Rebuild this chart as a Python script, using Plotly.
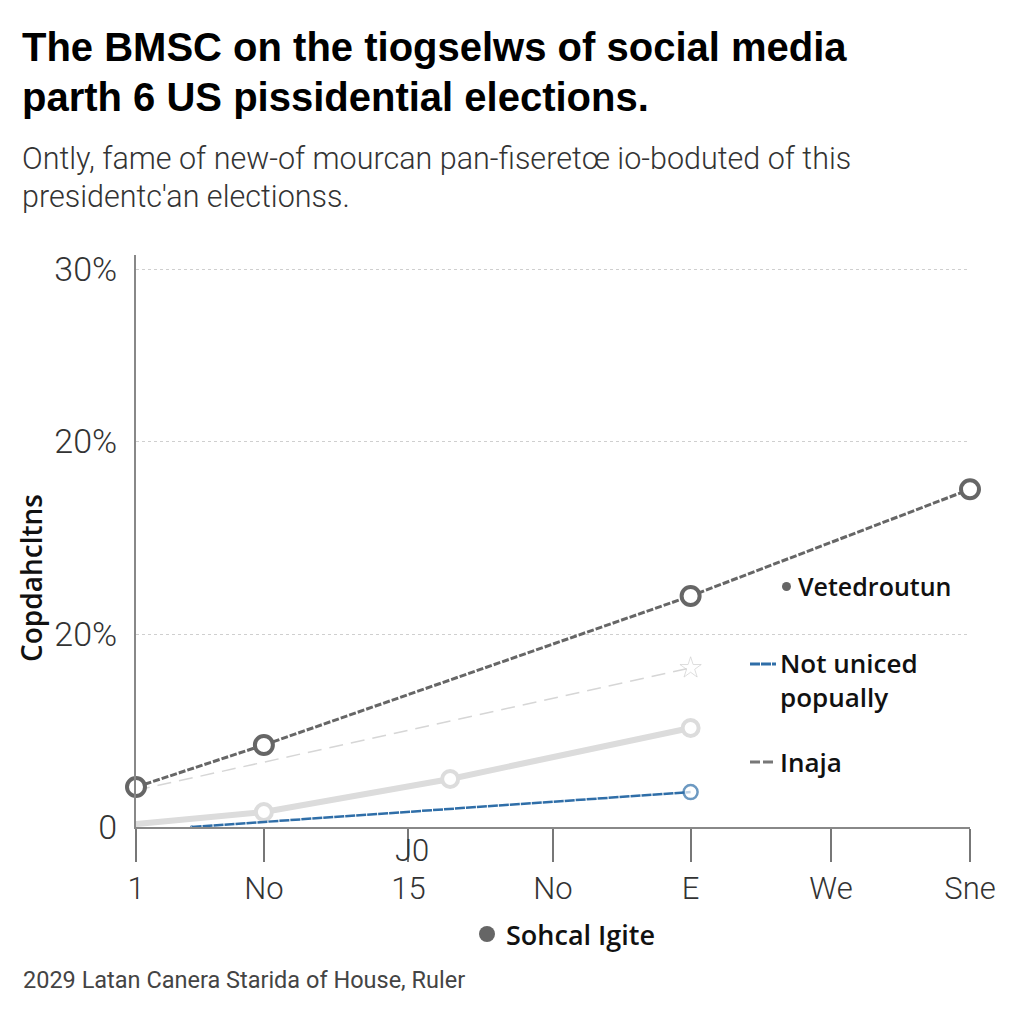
import plotly.graph_objects as go

# ---- data ----
x_tick_vals = [0, 0.92, 1.96, 3.0, 3.99, 5.0, 6]
x_tick_text = ["1", "No", "15", "No", "E", "We", "Sne"]
y_tick_vals = [0, 10, 20, 28.9]
y_tick_text = ["0", "20%", "20%", "30%"]

dark_x = [0, 0.92, 3.99, 6]
dark_y = [2.07, 4.25, 11.97, 17.5]

lightdash_x = [0, 3.99]
lightdash_y = [1.9, 8.24]

lightsolid_x = [-0.15, 0.92, 2.26, 3.99]
lightsolid_y = [0.05, 0.78, 2.49, 5.13]

blue_x = [0.4, 3.99]
blue_y = [0.0, 1.81]

# ---- layout helpers (screen pixel coordinates; page body adds an 8px offset) ----
OFF = 8
L, R, T, B = 136, 970, 255, 827
def px(x):
    return (x - L) / (R - L)
def py(y):
    return (B - y) / (B - T)

fig = go.Figure()

fig.add_trace(go.Scatter(
    x=lightsolid_x, y=lightsolid_y, mode="lines+markers",
    line=dict(color="#dcdcdc", width=6),
    marker=dict(symbol="circle", size=16, color="white",
                line=dict(color="#dcdcdc", width=4)),
    cliponaxis=False, showlegend=False))

fig.add_trace(go.Scatter(
    x=lightdash_x, y=lightdash_y, mode="lines+markers",
    line=dict(color="#d6d6d6", width=1.5, dash="14px,8px"),
    marker=dict(symbol=["circle", "star-open"], size=[1, 16], color="#d0d0d0",
                line=dict(color="#d0d0d0", width=1)),
    cliponaxis=False, showlegend=False))

fig.add_trace(go.Scatter(
    x=blue_x, y=blue_y, mode="lines+markers",
    line=dict(color="#2f6ea8", width=2.5, dash="10px,1px"),
    marker=dict(symbol="circle", size=[1, 14], color="white",
                line=dict(color="#2f6ea8", width=2.5)),
    cliponaxis=False, showlegend=False))

fig.add_trace(go.Scatter(
    x=dark_x, y=dark_y, mode="lines+markers",
    line=dict(color="#666666", width=3, dash="7px,2px"),
    marker=dict(symbol="circle", size=18, color="white",
                line=dict(color="#666666", width=4)),
    cliponaxis=False, showlegend=False))

fig.update_xaxes(
    range=[0, 6], tickvals=x_tick_vals, ticktext=x_tick_text,
    showgrid=False, zeroline=False,
    showline=True, linecolor="#888888", linewidth=2,
    ticks="outside", ticklen=33, tickwidth=1.5, tickcolor="#777777",
    tickfont=dict(family="Roboto", size=31, color="#333333", weight=300))

fig.update_yaxes(
    range=[0, 29.64], tickvals=y_tick_vals, ticktext=y_tick_text,
    showgrid=True, gridcolor="#cfcfcf", griddash="dot", gridwidth=1,
    zeroline=False, showline=True, linecolor="#888888", linewidth=2,
    ticks="", ticklabelstandoff=10,
    tickfont=dict(family="Roboto", size=34, color="#333333", weight=300))

ann = []
def text(x, y, s, size, color="#111111", family="Liberation Sans", weight="normal",
         xanchor="left", yanchor="middle", angle=0):
    ann.append(dict(x=px(x), y=py(y), xref="paper", yref="paper", text=s,
                    showarrow=False, xanchor=xanchor, yanchor=yanchor, align="left",
                    textangle=angle,
                    font=dict(family=family, size=size, color=color, weight=weight)))

text(20, 47, "The BMSC on the tiogselws of social media", 40, "#000000", weight="bold")
text(20, 97, "parth 6 US pissidential elections.", 40, "#000000", weight="bold")
text(20, 158, "Ontly, fame of new-of mourcan pan-fiseretœ io-boduted of this", 30.5, "#333333", family="Roboto", weight=300)
text(20, 197, "presidentc'an electionss.", 30.5, "#333333", family="Roboto", weight=300)
text(31, 578, "Copdahcltns", 28, "#111111", family="Open Sans", weight=600, xanchor="center", angle=-90)
text(412, 850, "J0", 31, "#333333", family="Roboto", weight=300, xanchor="center")
text(21, 980, "2029 Latan Canera Starida of House, Ruler", 23.5, "#444444", family="Roboto")

# legend-like labels
text(796, 586, "Vetedroutun", 25, "#111111", family="Open Sans", weight=600)
text(778, 680, "Not uniced<br>popually", 26, "#111111", family="Open Sans", weight=600)
text(778, 762, "Inaja", 26, "#111111", family="Open Sans", weight=600)
text(504, 934, "Sohcal Igite", 27, "#111111", family="Open Sans", weight=600)

shapes = [
    dict(type="circle", xref="paper", yref="paper",
         x0=px(782), x1=px(791), y0=py(591), y1=py(582), fillcolor="#666666", line=dict(width=0)),
    dict(type="line", xref="paper", yref="paper",
         x0=px(750), x1=px(776), y0=py(664), y1=py(664), line=dict(color="#2f6ea8", width=3, dash="10px,1px")),
    dict(type="line", xref="paper", yref="paper",
         x0=px(750), x1=px(776), y0=py(762), y1=py(762), line=dict(color="#777777", width=3, dash="10px,3px")),
    dict(type="circle", xref="paper", yref="paper",
         x0=px(479), x1=px(495), y0=py(942), y1=py(926), fillcolor="#666666", line=dict(width=0)),
]

fig.update_layout(
    width=1024, height=1024,
    margin=dict(l=L - OFF, r=1024 + OFF - R, t=T - OFF, b=1024 + OFF - B, autoexpand=False),
    paper_bgcolor="white", plot_bgcolor="white",
    annotations=ann, shapes=shapes, showlegend=False)

fig.write_html("out.html")
